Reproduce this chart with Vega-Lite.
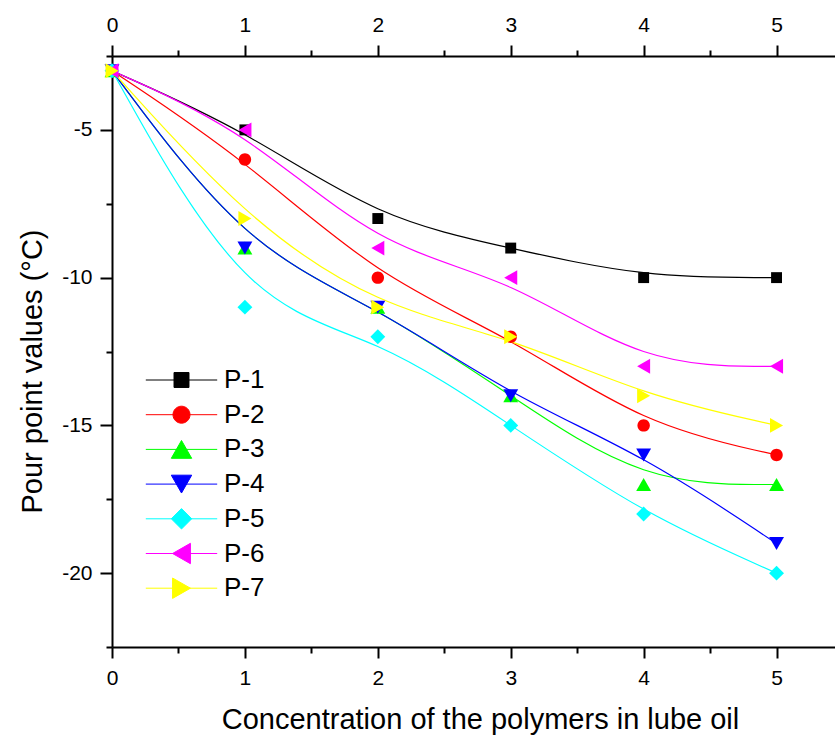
{
  "$schema": "https://vega.github.io/schema/vega-lite/v6.json",
  "width": 731,
  "height": 591,
  "autosize": {"type": "none"},
  "padding": {"left": 112, "top": 56, "right": 0, "bottom": 90},
  "background": "white",
  "config": {
    "view": {"stroke": null},
    "font": "Liberation Sans",
    "axis": {
      "grid": false,
      "domainColor": "#000000",
      "domainWidth": 2,
      "tickColor": "#000000",
      "tickWidth": 2,
      "labelColor": "#000000",
      "labelFont": "Liberation Sans",
      "labelFontSize": 21,
      "titleFont": "Liberation Sans",
      "titleFontSize": 29,
      "titleFontWeight": "normal",
      "titleColor": "#000000"
    },
    "legend": {
      "padding": 0,
      "labelFont": "Liberation Sans",
      "labelFontSize": 26,
      "labelColor": "#000000",
      "labelOffset": 29.5,
      "labelBaseline": "middle",
      "symbolSize": 289,
      "symbolOpacity": 1,
      "rowPadding": 8.7
    }
  },
  "data": {
    "values": [
      {"c": 0, "v": -3, "s": "P-1"}, {"c": 1, "v": -5, "s": "P-1"}, {"c": 2, "v": -8, "s": "P-1"}, {"c": 3, "v": -9, "s": "P-1"}, {"c": 4, "v": -10, "s": "P-1"}, {"c": 5, "v": -10, "s": "P-1"},
      {"c": 0, "v": -3, "s": "P-2"}, {"c": 1, "v": -6, "s": "P-2"}, {"c": 2, "v": -10, "s": "P-2"}, {"c": 3, "v": -12, "s": "P-2"}, {"c": 4, "v": -15, "s": "P-2"}, {"c": 5, "v": -16, "s": "P-2"},
      {"c": 0, "v": -3, "s": "P-3"}, {"c": 1, "v": -9, "s": "P-3"}, {"c": 2, "v": -11, "s": "P-3"}, {"c": 3, "v": -14, "s": "P-3"}, {"c": 4, "v": -17, "s": "P-3"}, {"c": 5, "v": -17, "s": "P-3"},
      {"c": 0, "v": -3, "s": "P-4"}, {"c": 1, "v": -9, "s": "P-4"}, {"c": 2, "v": -11, "s": "P-4"}, {"c": 3, "v": -14, "s": "P-4"}, {"c": 4, "v": -16, "s": "P-4"}, {"c": 5, "v": -19, "s": "P-4"},
      {"c": 0, "v": -3, "s": "P-5"}, {"c": 1, "v": -11, "s": "P-5"}, {"c": 2, "v": -12, "s": "P-5"}, {"c": 3, "v": -15, "s": "P-5"}, {"c": 4, "v": -18, "s": "P-5"}, {"c": 5, "v": -20, "s": "P-5"},
      {"c": 0, "v": -3, "s": "P-6"}, {"c": 1, "v": -5, "s": "P-6"}, {"c": 2, "v": -9, "s": "P-6"}, {"c": 3, "v": -10, "s": "P-6"}, {"c": 4, "v": -13, "s": "P-6"}, {"c": 5, "v": -13, "s": "P-6"},
      {"c": 0, "v": -3, "s": "P-7"}, {"c": 1, "v": -8, "s": "P-7"}, {"c": 2, "v": -11, "s": "P-7"}, {"c": 3, "v": -12, "s": "P-7"}, {"c": 4, "v": -14, "s": "P-7"}, {"c": 5, "v": -15, "s": "P-7"}
    ]
  },
  "layer": [
    {
      "mark": {"type": "line", "interpolate": "basis", "strokeWidth": 1.2},
      "encoding": {
        "x": {
          "field": "c", "type": "quantitative",
          "scale": {"domain": [0, 5.5], "nice": false, "zero": false},
          "axis": {
            "orient": "bottom", "values": [0, 1, 2, 3, 4, 5], "tickSize": 11,
            "labelPadding": 26, "labelBaseline": "alphabetic", "labelFlush": false,
            "title": "Concentration of the polymers in lube oil",
            "titleX": 368, "titleY": 81, "titleBaseline": "alphabetic", "titleAlign": "center", "titleAnchor": null
          }
        },
        "y": {
          "field": "v", "type": "quantitative",
          "scale": {"domain": [-22.5, -2.5], "nice": false, "zero": false},
          "axis": {
            "orient": "left", "values": [-5, -10, -15, -20], "tickSize": 12,
            "labelPadding": 8, "labelFlush": false,
            "labelExpr": "replace(datum.label, '\u2212', '-')",
            "title": "Pour point values (°C)",
            "titleX": -71, "titleY": 315, "titleBaseline": "alphabetic", "titleAlign": "center", "titleAngle": -90
          }
        },
        "color": {
          "field": "s", "type": "nominal",
          "scale": {
            "domain": ["P-1", "P-2", "P-3", "P-4", "P-5", "P-6", "P-7"],
            "range": ["#000000", "#ff0000", "#00ff00", "#0000ff", "#00ffff", "#ff00ff", "#ffff00"]
          },
          "legend": null
        }
      }
    },
    {
      "mark": {"type": "point", "filled": true, "opacity": 1, "size": 154},
      "encoding": {
        "x": {
          "field": "c", "type": "quantitative",
          "axis": {
            "orient": "top", "values": [0, 1, 2, 3, 4, 5], "tickSize": 11,
            "labelPadding": 14, "labelBaseline": "alphabetic", "labelFlush": false, "title": null
          }
        },
        "y": {
          "field": "v", "type": "quantitative",
          "axis": {"orient": "right", "values": [-5, -10, -15, -20], "tickSize": 11, "labels": false, "title": null}
        },
        "color": {
          "field": "s", "type": "nominal",
          "scale": {
            "domain": ["P-1", "P-2", "P-3", "P-4", "P-5", "P-6", "P-7"],
            "range": ["#000000", "#ff0000", "#00ff00", "#0000ff", "#00ffff", "#ff00ff", "#ffff00"]
          },
          "legend": {"title": null, "orient": "none", "legendX": 56.5, "legendY": 311, "labelOpacity": 0, "symbolStrokeWidth": 0}
        },
        "shape": {
          "field": "s", "type": "nominal",
          "scale": {
            "domain": ["P-1", "P-2", "P-3", "P-4", "P-5", "P-6", "P-7"],
            "range": [
              "M-0.88,-0.88H0.88V0.88H-0.88Z",
              "M-1,0A1,1,0,1,0,1,0A1,1,0,1,0,-1,0Z",
              "M0,-1.05L1.2,1.05L-1.2,1.05Z",
              "M0,1.05L1.2,-1.05L-1.2,-1.05Z",
              "M0,-1.2L1.2,0L0,1.2L-1.2,0Z",
              "M-1.05,0L1.05,-1.2L1.05,1.2Z",
              "M1.05,0L-1.05,-1.2L-1.05,1.2Z"
            ]
          },
          "legend": {"title": null, "orient": "none", "legendX": 56.5, "legendY": 311, "labelOpacity": 0, "symbolStrokeWidth": 0}
        }
      }
    },
    {
      "mark": {"type": "point", "filled": false, "opacity": 0, "strokeWidth": 1},
      "encoding": {
        "x": {"field": "c", "type": "quantitative", "axis": null},
        "y": {"field": "v", "type": "quantitative", "axis": null},
        "color": {
          "field": "s", "type": "nominal",
          "scale": {
            "domain": ["P-1", "P-2", "P-3", "P-4", "P-5", "P-6", "P-7"],
            "range": ["#000000", "#ff0000", "#00ff00", "#0000ff", "#00ffff", "#ff00ff", "#ffff00"]
          },
          "legend": {"title": null, "orient": "none", "legendX": 56.5, "legendY": 311, "symbolStrokeWidth": 1, "symbolOpacity": 1}
        },
        "shape": {
          "field": "s", "type": "nominal",
          "scale": {
            "domain": ["P-1", "P-2", "P-3", "P-4", "P-5", "P-6", "P-7"],
            "range": [
              "M-4.2,0H4.2M-0.88,-0.88H0.88V0.88H-0.88Z",
              "M-4.2,0H4.2M-1,0A1,1,0,1,0,1,0A1,1,0,1,0,-1,0Z",
              "M-4.2,0H4.2M0,-1.05L1.2,1.05L-1.2,1.05Z",
              "M-4.2,0H4.2M0,1.05L1.2,-1.05L-1.2,-1.05Z",
              "M-4.2,0H4.2M0,-1.2L1.2,0L0,1.2L-1.2,0Z",
              "M-4.2,0H4.2M-1.05,0L1.05,-1.2L1.05,1.2Z",
              "M-4.2,0H4.2M1.05,0L-1.05,-1.2L-1.05,1.2Z"
            ]
          },
          "legend": {"title": null, "orient": "none", "legendX": 56.5, "legendY": 311, "symbolStrokeWidth": 1, "symbolOpacity": 1}
        }
      }
    },
    {
      "mark": {"type": "point", "opacity": 0},
      "encoding": {
        "x": {
          "field": "c", "type": "quantitative",
          "axis": {"orient": "bottom", "values": [0.5, 1.5, 2.5, 3.5, 4.5], "tickSize": 6, "labels": false, "domain": false, "title": null}
        },
        "y": {
          "field": "v", "type": "quantitative",
          "axis": {"orient": "left", "values": [-2.5, -7.5, -12.5, -17.5, -22.5], "tickSize": 6, "labels": false, "domain": false, "title": null}
        }
      }
    },
    {
      "mark": {"type": "point", "opacity": 0},
      "encoding": {
        "x": {
          "field": "c", "type": "quantitative",
          "axis": {"orient": "top", "values": [0.5, 1.5, 2.5, 3.5, 4.5], "tickSize": 6, "labels": false, "domain": false, "title": null}
        },
        "y": {
          "field": "v", "type": "quantitative",
          "axis": {"orient": "right", "values": [-2.5, -7.5, -12.5, -17.5, -22.5], "tickSize": 6, "labels": false, "domain": false, "title": null}
        }
      }
    }
  ],
  "resolve": {
    "axis": {"x": "independent", "y": "independent"},
    "scale": {"color": "independent", "shape": "independent"},
    "legend": {"color": "independent", "shape": "independent"}
  }
}
